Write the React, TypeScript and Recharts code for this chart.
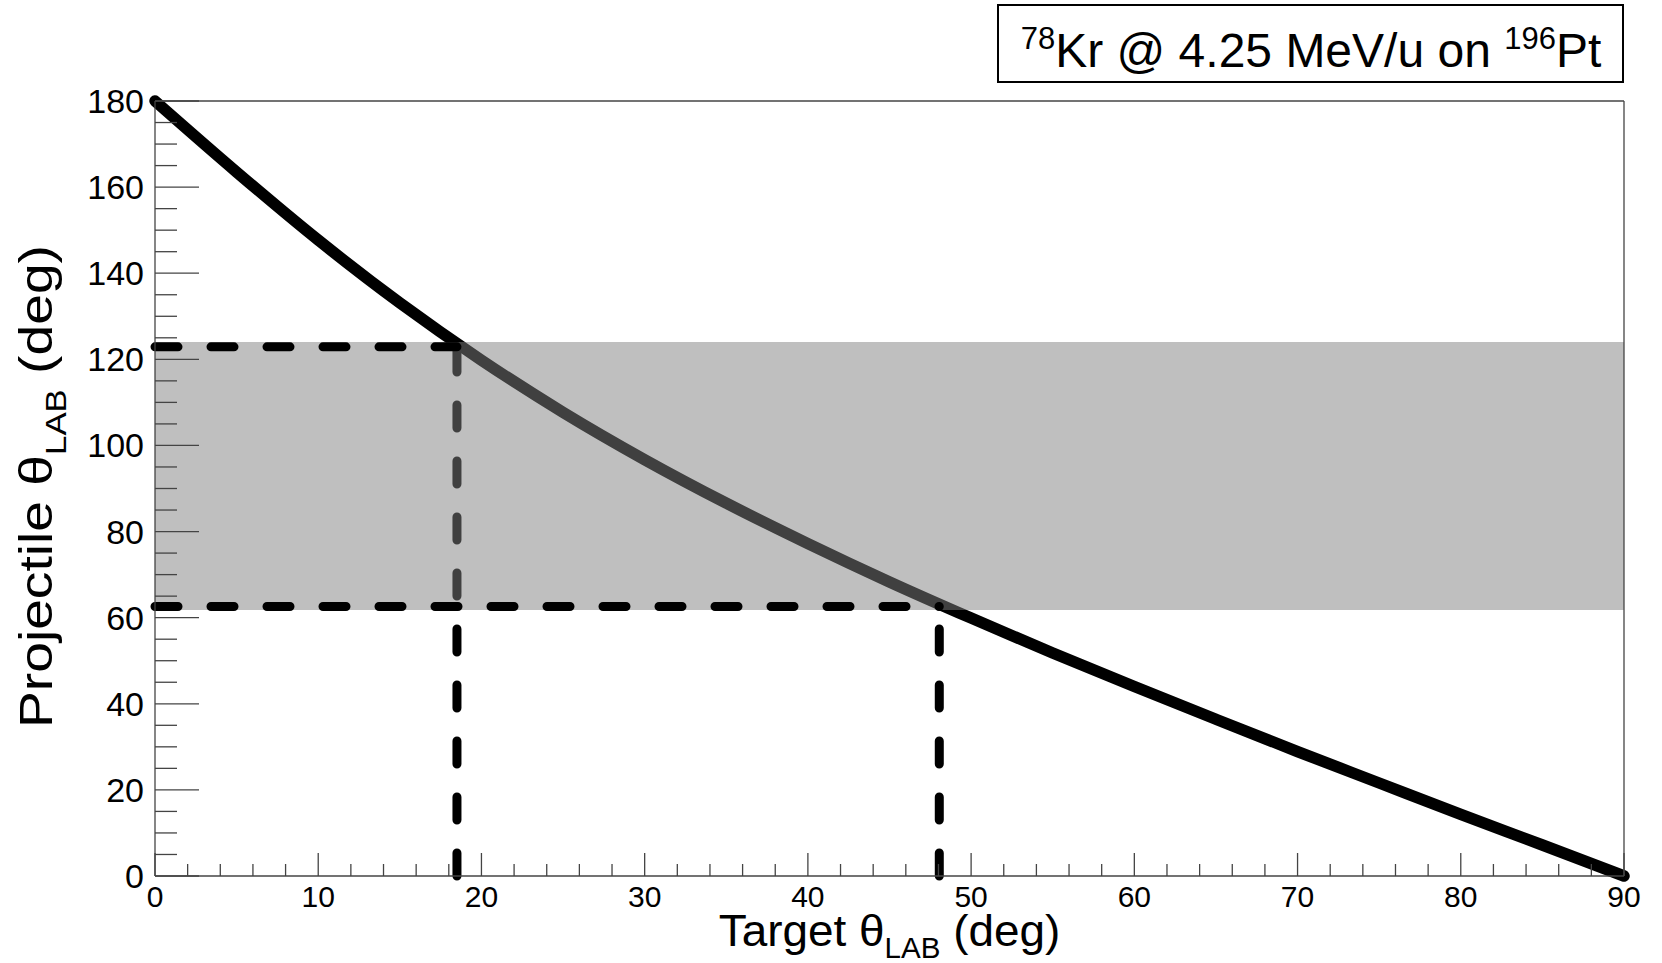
import React from "react";
import { LineChart, Line, XAxis, YAxis, ReferenceArea, ReferenceLine } from "recharts";

// kinematic curve (target lab angle -> projectile lab angle)
const targetTheta = [0, 5, 10, 15, 20, 25, 30, 35, 40, 45, 50, 55, 60, 65, 70, 75, 80, 85, 90];
const projectileTheta = [180, 163.5, 147.7, 133.1, 119.8, 107.7, 96.7, 86.6, 77.2, 68.3, 59.9, 51.8, 44.0, 36.4, 28.9, 21.6, 14.3, 7.2, 0];

// shaded projectile acceptance band
const bandLow = 61.8;
const bandHigh = 124.0;

// dashed markers: target angle / projectile angle pairs
const cutTarget = [18.5, 48.05];
const cutProjectile = [122.9, 62.6];

const xMajorTicks = [0, 10, 20, 30, 40, 50, 60, 70, 80, 90];
const yMajorTicks = [0, 20, 40, 60, 80, 100, 120, 140, 160, 180];

const data = targetTheta.map((t, i) => ({ target: t, proj: projectileTheta[i] }));
const xTicks = Array.from({ length: 46 }, (_, i) => i * 2);
const yTicks = Array.from({ length: 37 }, (_, i) => i * 5);

const FONT = '"Liberation Sans", Arial, Helvetica, sans-serif';
const AXIS = "#444";

function XTick(props: any) {
  const { x, y, payload } = props;
  const major = xMajorTicks.includes(payload.value);
  return (
    <g>
      <line x1={x} y1={y} x2={x} y2={y - (major ? 23 : 12)} stroke={AXIS} strokeWidth={1.3} />
      {major && (
        <text x={x} y={y + 31} textAnchor="middle" fontSize={30} fontFamily={FONT} fill="#000">
          {payload.value}
        </text>
      )}
    </g>
  );
}

function YTick(props: any) {
  const { x, y, payload } = props;
  const major = yMajorTicks.includes(payload.value);
  return (
    <g>
      <line x1={x} y1={y} x2={x + (major ? 44 : 22)} y2={y} stroke={AXIS} strokeWidth={1.3} />
      {major && (
        <text x={x - 11} y={y + 12} textAnchor="end" fontSize={34} fontFamily={FONT} fill="#000">
          {payload.value}
        </text>
      )}
    </g>
  );
}

const renderXTitle = (props: any) => {
  const vb = props.viewBox;
  const cx = vb.x + vb.width / 2;
  const by = vb.y + 70;
  return (
    <g transform={`translate(${cx}, ${by}) scale(1.02, 1)`}>
      <text x={0} y={0} textAnchor="middle" fontSize={45} fontFamily={FONT} fill="#000">
        Target θ
        <tspan fontSize={29} dy={12}>LAB</tspan>
        <tspan dy={-12}>{" (deg)"}</tspan>
      </text>
    </g>
  );
};

const renderYTitle = (props: any) => {
  const vb = props.viewBox;
  const cy = vb.y + vb.height / 2 - 2;
  const bx = 52;
  return (
    <g transform={`translate(${bx}, ${cy}) rotate(-90) scale(1.2, 1)`}>
      <text x={0} y={0} textAnchor="middle" fontSize={46} fontFamily={FONT} fill="#000">
        Projectile θ
        <tspan fontSize={29} dy={14}>LAB</tspan>
        <tspan dy={-14}>{" (deg)"}</tspan>
      </text>
    </g>
  );
};

const dashStyle = {
  stroke: "#000",
  strokeWidth: 9,
  strokeDasharray: "23 33",
  strokeLinecap: "round" as const,
};

export default function App() {
  return (
    <div style={{ position: "fixed", left: 0, top: 0, width: 1662, height: 963, background: "#fff" }}>
      <LineChart width={1662} height={963} data={data} margin={{ top: 101, right: 38, bottom: 47, left: 55 }}>
        <XAxis
          dataKey="target"
          type="number"
          domain={[0, 90]}
          ticks={xTicks}
          interval={0}
          height={40}
          tickSize={0}
          tickMargin={0}
          tickLine={false}
          axisLine={{ stroke: AXIS, strokeWidth: 1.3 }}
          tick={<XTick />}
          label={renderXTitle}
        />
        <YAxis
          type="number"
          domain={[0, 180]}
          ticks={yTicks}
          interval={0}
          width={100}
          tickSize={0}
          tickMargin={0}
          tickLine={false}
          axisLine={{ stroke: AXIS, strokeWidth: 1.3 }}
          tick={<YTick />}
          label={renderYTitle}
        />
        <Line
          dataKey="proj"
          type="monotone"
          stroke="#000"
          strokeWidth={11.5}
          strokeLinecap="round"
          strokeLinejoin="round"
          dot={false}
          activeDot={false}
          isAnimationActive={false}
          zIndex={410}
        />
        {cutTarget.map((t, i) => (
          <ReferenceLine
            key={`v${i}`}
            segment={[
              { x: t, y: 0 },
              { x: t, y: cutProjectile[i] },
            ]}
            {...dashStyle}
            zIndex={420}
          />
        ))}
        <ReferenceArea y1={bandLow} y2={bandHigh} fill="#7f7f7f" fillOpacity={0.5} stroke="none" zIndex={430} />
        {cutTarget.map((t, i) => (
          <ReferenceLine
            key={`h${i}`}
            segment={[
              { x: 0, y: cutProjectile[i] },
              { x: t, y: cutProjectile[i] },
            ]}
            {...dashStyle}
            zIndex={440}
          />
        ))}
        <ReferenceLine y={180} stroke={AXIS} strokeWidth={1.3} zIndex={450} />
        <ReferenceLine x={90} stroke={AXIS} strokeWidth={1.3} zIndex={450} />
      </LineChart>
      <svg width={1662} height={963} style={{ position: "absolute", left: 0, top: 0, pointerEvents: "none" }}>
        <rect x={998} y={5} width={625} height={77} fill="#fff" stroke="#000" strokeWidth={2} />
        <text x={1311} y={67} textAnchor="middle" fontSize={48} fontFamily={FONT} fill="#000">
          <tspan fontSize={31} dy={-18}>78</tspan>
          <tspan dy={18}>Kr @ 4.25 MeV/u on </tspan>
          <tspan fontSize={31} dy={-18}>196</tspan>
          <tspan dy={18}>Pt</tspan>
        </text>
      </svg>
    </div>
  );
}
